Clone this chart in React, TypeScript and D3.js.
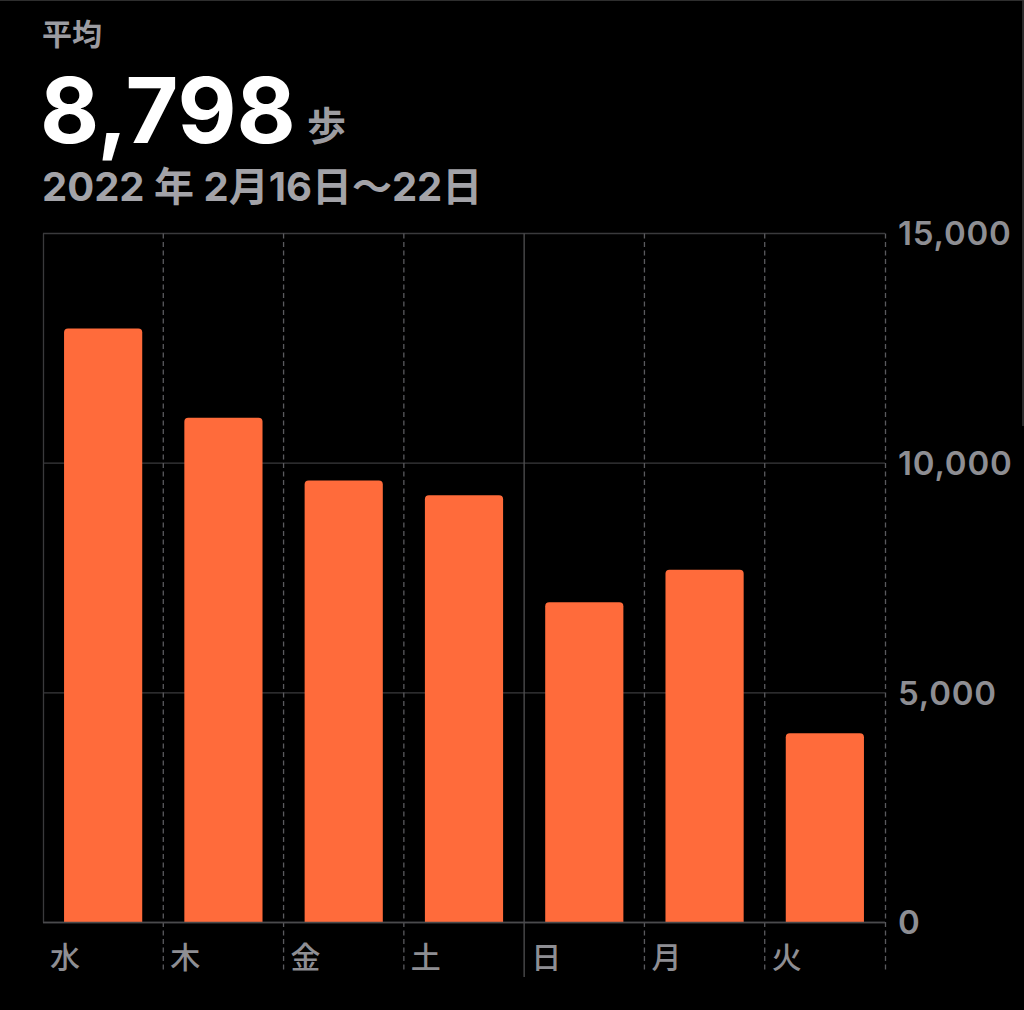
import React from 'react';
import * as d3 from 'd3';

const days = ['水', '木', '金', '土', '日', '月', '火'];
const steps = [12930, 10990, 9620, 9300, 6970, 7680, 4120];
const yTicks = [0, 5000, 10000, 15000];
const averageSteps = 8798;
const titleText = '平均';
const unitText = '歩';
const dateRange = '2022 年 2月16日〜22日';
const solidDay = '日';

const W = 1024;
const H = 1010;
const LATIN = "Inter, 'Noto Sans CJK JP', sans-serif";
const CJK = "'Noto Sans CJK JP', sans-serif";

export default function App() {
  const x = d3.scaleBand<string>().domain(days).range([43, 885]).paddingInner(0.35).paddingOuter(0.175);
  const y = d3.scaleLinear().domain([0, 15000]).range([922.5, 233.5]);
  const step = x.step();
  const bw = x.bandwidth();
  const colLeft = (d: string) => (x(d) as number) - (step - bw) / 2;
  const fmt = d3.format(',');

  const barPath = (d: string, v: number) => {
    const x0 = x(d) as number;
    const y0 = y(v);
    const y1 = y(0);
    const r = 4;
    const p = d3.path();
    p.moveTo(x0, y1);
    p.lineTo(x0, y0 + r);
    p.quadraticCurveTo(x0, y0, x0 + r, y0);
    p.lineTo(x0 + bw - r, y0);
    p.quadraticCurveTo(x0 + bw, y0, x0 + bw, y0 + r);
    p.lineTo(x0 + bw, y1);
    p.closePath();
    return p.toString();
  };

  const right = x.range()[1];
  const left = x.range()[0];

  return (
    <svg width={W} height={H} style={{ position: 'absolute', left: 0, top: 0, background: '#000' }}>
      <rect x={0} y={0} width={W} height={H} fill="#000" />
      <line x1={0} x2={W} y1={0.5} y2={0.5} stroke="#2e2e2e" strokeWidth={1} />
      <line x1={W - 1} x2={W - 1} y1={0} y2={426} stroke="#3a3a3a" strokeWidth={1.5} />

      {/* header */}
      <text x={42} y={45} fontFamily={CJK} fontSize={30} fontWeight={700} fill="#9c9ca1">{titleText}</text>
      <text x={40} y={143} fontFamily={LATIN} fontSize={91} fontWeight={700} fill="#ffffff">{fmt(averageSteps)}</text>
      <text x={307} y={140} fontFamily={CJK} fontSize={39} fontWeight={700} fill="#9c9ca1">{unitText}</text>
      <text x={42} y={201} fontFamily={LATIN} fontSize={40} fontWeight={700} fill="#a3a3a8">{dateRange}</text>

      {/* horizontal grid */}
      {yTicks.map((t) => (
        <line key={'g' + t} x1={left} x2={right} y1={y(t)} y2={y(t)} stroke={t === 0 ? '#4a4a4c' : '#3a3a3c'} strokeWidth={1.3} />
      ))}
      {/* left border */}
      <line x1={left + 0.5} x2={left + 0.5} y1={y(15000)} y2={y(0)} stroke="#3a3a3c" strokeWidth={1.3} />

      {/* column separators */}
      {days.map((d, i) => {
        if (i === 0) return null;
        const cx = colLeft(d);
        const solid = d === solidDay;
        return (
          <line key={'v' + d} x1={cx} x2={cx} y1={y(15000)} y2={solid ? 977 : 973}
            stroke={solid ? '#505052' : '#5a5a5e'} strokeWidth={1.3}
            strokeDasharray={solid ? undefined : '5,3.5'} />
        );
      })}
      <line x1={right + 0.5} x2={right + 0.5} y1={y(15000)} y2={973} stroke="#5a5a5e" strokeWidth={1.3} strokeDasharray="5,3.5" />

      {/* bars */}
      {days.map((d, i) => (
        <path key={'b' + d} d={barPath(d, steps[i])} fill="#ff6b3b" />
      ))}
      <line x1={left} x2={right} y1={y(0)} y2={y(0)} stroke="#4a4a4c" strokeWidth={1.3} />

      {/* y labels */}
      {yTicks.map((t) => (
        <text key={'l' + t} x={right + 13} y={y(t)} dy="0.36em" fontFamily={LATIN} fontSize={33} fontWeight={600}
          letterSpacing={0.8} fill="#8e8e93">{fmt(t)}</text>
      ))}

      {/* day labels */}
      {days.map((d) => (
        <text key={'d' + d} x={colLeft(d) + 7} y={968} fontFamily={CJK} fontSize={30} fontWeight={500} fill="#8e8e93">{d}</text>
      ))}
    </svg>
  );
}
